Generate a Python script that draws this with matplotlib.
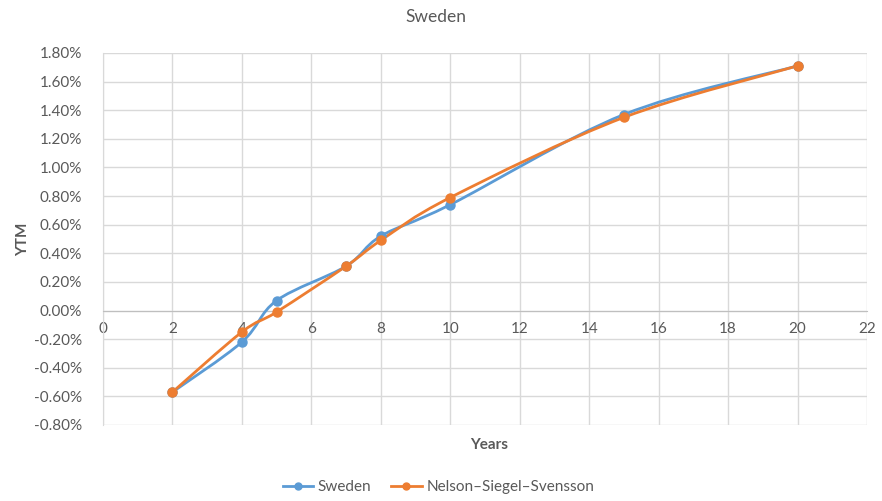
import matplotlib.pyplot as plt
import numpy as np
from matplotlib.path import Path
from matplotlib.patches import PathPatch
from matplotlib.ticker import FuncFormatter, MultipleLocator

plt.rcParams['font.family'] = ['Lato', 'DejaVu Sans']

years = [2, 4, 5, 7, 8, 10, 15, 20]
sweden = [-0.57, -0.22, 0.07, 0.31, 0.52, 0.74, 1.37, 1.71]
nss = [-0.57, -0.15, -0.01, 0.31, 0.49, 0.79, 1.35, 1.71]

blue = '#5B9BD5'
orange = '#ED7D31'
grey = '#595959'


def smooth_path(x, y, t=0.5 / 3):
    # Excel-style smoothed line: cubic Bezier through the points
    x = np.asarray(x, float)
    y = np.asarray(y, float)
    verts = [(x[0], y[0])]
    codes = [Path.MOVETO]
    n = len(x)
    for i in range(n - 1):
        x0, y0 = (x[i - 1], y[i - 1]) if i > 0 else (x[i], y[i])
        x3, y3 = (x[i + 2], y[i + 2]) if i + 2 < n else (x[i + 1], y[i + 1])
        c1 = (x[i] + t * (x[i + 1] - x0), y[i] + t * (y[i + 1] - y0))
        c2 = (x[i + 1] - t * (x3 - x[i]), y[i + 1] - t * (y3 - y[i]))
        verts += [c1, c2, (x[i + 1], y[i + 1])]
        codes += [Path.CURVE4] * 3
    return Path(verts, codes)


fig = plt.figure(figsize=(8.82, 5.01), dpi=100)
ax = fig.add_axes([103 / 882, 1 - 425 / 501, (867 - 103) / 882, (425 - 53) / 501])

for vals, col, name in [(sweden, blue, 'Sweden'), (nss, orange, 'Nelson\u2013Siegel\u2013Svensson')]:
    ax.add_patch(PathPatch(smooth_path(years, vals), facecolor='none', edgecolor=col,
                           lw=2.0, zorder=3))
    ax.plot(years, vals, 'o', color=col, markersize=6.5, zorder=4)
    ax.plot([], [], '-o', color=col, lw=2.0, markersize=5, label=name)

ax.set_xlim(0, 22)
ax.set_ylim(-0.8, 1.8)
ax.xaxis.set_major_locator(MultipleLocator(2))
ax.yaxis.set_major_locator(MultipleLocator(0.2))
ax.yaxis.set_major_formatter(FuncFormatter(lambda v, p: f'{v:.2f}%'))
ax.grid(True, color='#D9D9D9', lw=1)
ax.set_axisbelow(True)

for s in ['top', 'right']:
    ax.spines[s].set_visible(False)
ax.spines['bottom'].set_position(('data', 0))
ax.spines['bottom'].set_color('#BFBFBF')
ax.spines['left'].set_color('#D9D9D9')
ax.tick_params(length=0, labelsize=11, colors=grey)
ax.tick_params(axis='y', pad=15)
ax.tick_params(axis='x', pad=8)

fig.text(0.494, 1 - 17 / 501, 'Sweden', ha='center', va='center', fontsize=12.5, color=grey)
ax.set_xlabel('Years', fontsize=11, color=grey, fontweight='bold')
ax.xaxis.set_label_coords(0.505, -0.035)
ax.set_ylabel('YTM', fontsize=11, color=grey, fontweight='bold')
ax.yaxis.set_label_coords(-0.095, 0.5)

fig.legend(loc='center', bbox_to_anchor=(0.497, 0.028), ncol=2, frameon=False,
           fontsize=11, labelcolor=grey, handlelength=2.0, handletextpad=0.3,
           columnspacing=1.3)

fig.savefig('out.png', dpi=100)
